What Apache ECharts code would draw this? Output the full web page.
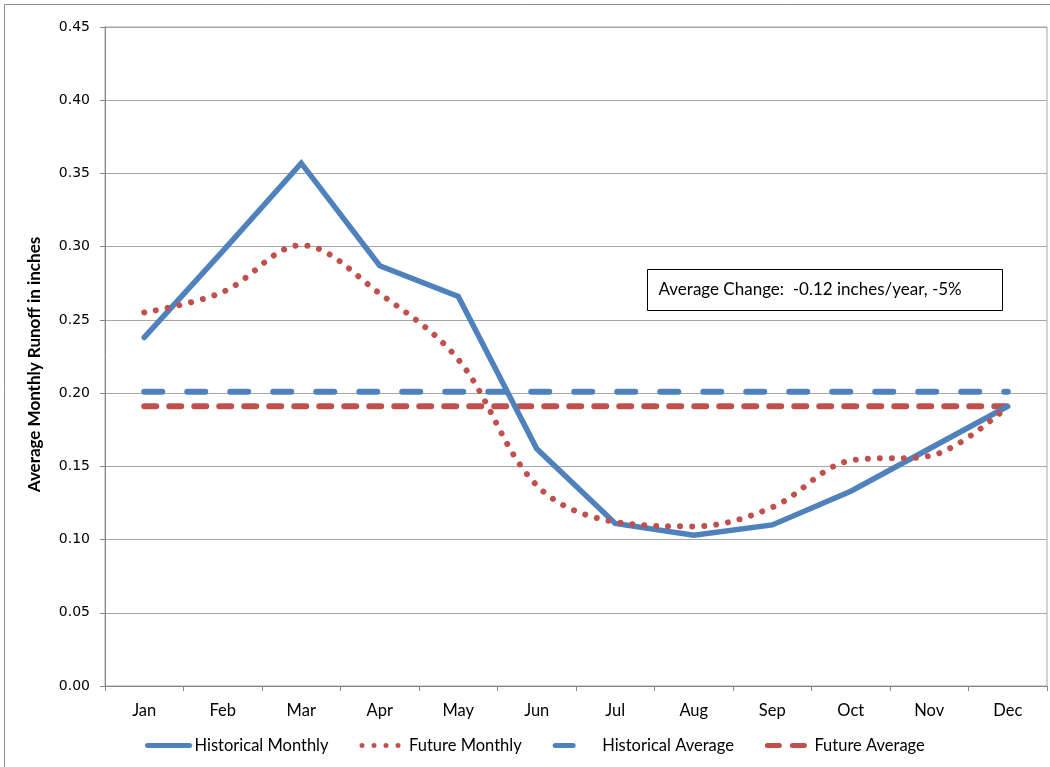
<!DOCTYPE html>
<html>
<head>
<meta charset="utf-8">
<script src="https://cdn.jsdelivr.net/npm/echarts@6/dist/echarts.min.js"></script>
<style>
  html, body { margin: 0; padding: 0; background: #ffffff; }
  #chart { width: 1050px; height: 767px; }
</style>
</head>
<body>
<div id="chart"></div>
<script>
// Monthly runoff, historical vs. projected future (inches)
const months = ['Jan', 'Feb', 'Mar', 'Apr', 'May', 'Jun', 'Jul', 'Aug', 'Sep', 'Oct', 'Nov', 'Dec'];
const historicalMonthly = [0.238, 0.297, 0.357, 0.287, 0.266, 0.162, 0.111, 0.103, 0.110, 0.133, 0.162, 0.191];
const futureMonthly = [0.255, 0.269, 0.301, 0.268, 0.223, 0.137, 0.112, 0.109, 0.122, 0.154, 0.157, 0.191];
const historicalAverage = [0.201, 0.201, 0.201, 0.201, 0.201, 0.201, 0.201, 0.201, 0.201, 0.201, 0.201, 0.201];
const futureAverage = [0.191, 0.191, 0.191, 0.191, 0.191, 0.191, 0.191, 0.191, 0.191, 0.191, 0.191, 0.191];
const seriesNames = ['Historical Monthly', 'Future Monthly', 'Historical Average', 'Future Average'];
const noteText = 'Average Change:  -0.12 inches/year, -5%';

const BLUE = '#4F81BD';
const RED = '#C0504D';
const AXIS = '#868686';
const GRID = '#a6a6a6';
const TEXT_FONT = 'Lato, "Open Sans", sans-serif';

const chart = echarts.init(document.getElementById('chart'), null, { renderer: 'canvas' });

chart.setOption({
  backgroundColor: '#ffffff',
  animation: false,
  grid: {
    left: 105, right: 3, top: 27, bottom: 81,
    show: true, borderColor: GRID, borderWidth: 1
  },
  xAxis: {
    type: 'category',
    data: months,
    boundaryGap: true,
    axisLine: { lineStyle: { color: AXIS, width: 1 } },
    axisTick: { show: true, length: 5, lineStyle: { color: AXIS } },
    axisLabel: { color: '#000', fontFamily: TEXT_FONT, fontSize: 16.5, margin: 16 },
    splitLine: { show: false }
  },
  yAxis: {
    type: 'value',
    min: 0, max: 0.45, interval: 0.05,
    name: 'Average Monthly Runoff in inches',
    nameLocation: 'middle',
    nameRotate: 90,
    nameGap: 62,
    nameTextStyle: {
      color: '#000', fontFamily: TEXT_FONT, fontSize: 17, fontWeight: 'bold',
      padding: [0, 16, 0, 0]
    },
    axisLine: { show: true, lineStyle: { color: AXIS, width: 1 } },
    axisTick: { show: true, length: 5, lineStyle: { color: AXIS } },
    axisLabel: {
      color: '#000', fontFamily: '"DejaVu Sans", Verdana, sans-serif', fontSize: 14, margin: 15,
      formatter: v => v.toFixed(2)
    },
    splitLine: { show: true, lineStyle: { color: GRID, width: 1 } }
  },
  legend: {
    data: seriesNames,
    left: 145, top: 737,
    padding: 0,
    itemWidth: 42, itemHeight: 10,
    itemGap: 31,
    itemStyle: { opacity: 0 },
    lineStyle: { width: 5, cap: 'round' },
    textStyle: { color: '#000', fontFamily: TEXT_FONT, fontSize: 16.5 }
  },
  series: [
    {
      name: seriesNames[0], type: 'line', data: historicalMonthly,
      symbol: 'none', z: 4,
      lineStyle: { color: BLUE, width: 5.5, cap: 'round', join: 'miter' },
      itemStyle: { color: BLUE }
    },
    {
      name: seriesNames[1], type: 'line', data: futureMonthly,
      symbol: 'none', smooth: 0.35, z: 5,
      lineStyle: { color: RED, width: 6, type: [0.01, 12], cap: 'round' },
      itemStyle: { color: RED }
    },
    {
      name: seriesNames[2], type: 'line', data: historicalAverage,
      symbol: 'none', z: 3,
      lineStyle: { color: BLUE, width: 6, type: [18, 25], cap: 'round' },
      itemStyle: { color: BLUE }
    },
    {
      name: seriesNames[3], type: 'line', data: futureAverage,
      symbol: 'none', z: 3,
      lineStyle: { color: RED, width: 6, type: [12, 13], cap: 'round' },
      itemStyle: { color: RED }
    }
  ],
  graphic: [
    {
      type: 'rect', left: 2, top: 2, silent: true,
      shape: { width: 1070, height: 790 },
      style: { fill: 'none', stroke: '#8c8c8c', lineWidth: 1 }
    },
    {
      type: 'group', left: 647, top: 269,
      children: [
        {
          type: 'rect',
          shape: { x: 0, y: 0, width: 355, height: 41 },
          style: { fill: '#ffffff', stroke: '#000000', lineWidth: 1 }
        },
        {
          type: 'text', x: 11, y: 20.5,
          style: {
            text: noteText, fill: '#000', font: '17px ' + TEXT_FONT,
            verticalAlign: 'middle'
          }
        }
      ]
    }
  ]
});
</script>
</body>
</html>
